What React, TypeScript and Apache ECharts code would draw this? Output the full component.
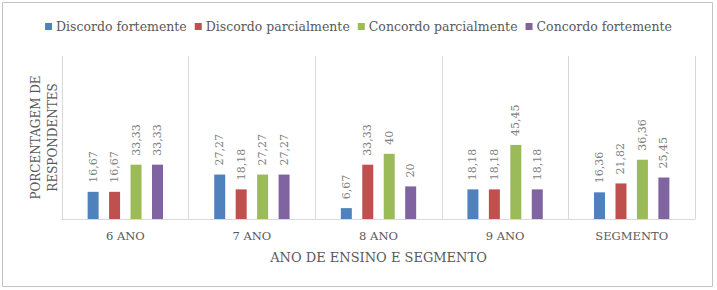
import React, { useEffect, useRef } from "react";
import * as echarts from "echarts";

const categories = ["6 ANO", "7 ANO", "8 ANO", "9 ANO", "SEGMENTO"];
const seriesNames = [
  "Discordo fortemente",
  "Discordo parcialmente",
  "Concordo parcialmente",
  "Concordo fortemente",
];
const discordoFortemente = [16.67, 27.27, 6.67, 18.18, 16.36];
const discordoParcialmente = [16.67, 18.18, 33.33, 18.18, 21.82];
const concordoParcialmente = [33.33, 27.27, 40, 45.45, 36.36];
const concordoFortemente = [33.33, 27.27, 20, 18.18, 25.45];
const colors = ["#4F81BD", "#C0504D", "#9BBB59", "#8064A2"];
const yAxisName = "PORCENTAGEM DE\nRESPONDENTES";
const xAxisName = "ANO DE ENSINO E SEGMENTO";

const FONT = "DejaVu Serif";

export default function App() {
  const ref = useRef<HTMLDivElement>(null);

  useEffect(() => {
    document.body.style.margin = "0";
    const chart = echarts.init(ref.current!, null, { renderer: "svg" });
    const allData = [
      discordoFortemente,
      discordoParcialmente,
      concordoParcialmente,
      concordoFortemente,
    ];
    chart.setOption({
      animation: false,
      backgroundColor: "#ffffff",
      color: colors,
      legend: {
        top: 15,
        left: "center",
        itemWidth: 7,
        itemHeight: 7,
        itemGap: 8,
        icon: "rect",
        textStyle: { fontFamily: FONT, fontSize: 12.5, color: "#595959", padding: [0, 0, 0, -1] },
        data: seriesNames,
      },
      graphic: [
        {
          type: "rect",
          shape: { x: 2.5, y: 2.5, width: 710, height: 284 },
          style: { fill: "none", stroke: "#c3c3c3", lineWidth: 1 },
          silent: true,
        },
      ],
      grid: { left: 62, right: 22, top: 56, bottom: 71 },
      xAxis: {
        type: "category",
        data: categories,
        name: xAxisName,
        nameLocation: "middle",
        nameGap: 32,
        nameTextStyle: { fontFamily: FONT, fontSize: 13, color: "#595959" },
        axisLine: { lineStyle: { color: "#d9d9d9" } },
        axisTick: { show: false },
        splitLine: { show: true, lineStyle: { color: "#d9d9d9" } },
        axisLabel: { fontFamily: FONT, fontSize: 11.5, color: "#595959", margin: 11 },
      },
      yAxis: {
        type: "value",
        min: 0,
        max: 100,
        name: yAxisName,
        nameLocation: "middle",
        nameGap: 1,
        nameTextStyle: { fontFamily: FONT, fontSize: 12, color: "#595959", lineHeight: 17 },
        axisLine: { show: false },
        axisTick: { show: false },
        axisLabel: { show: false },
        splitLine: { show: false },
      },
      series: seriesNames.map((name, i) => ({
        name,
        type: "bar",
        data: allData[i],
        barWidth: 11,
        barGap: "95%",
        label: {
          show: true,
          position: "top",
          rotate: 90,
          align: "left",
          verticalAlign: "middle",
          distance: 9,
          fontFamily: FONT,
          fontSize: 11,
          color: "#808080",
          formatter: (p: any) => String(p.value).replace(".", ","),
        },
      })),
    });
    return () => chart.dispose();
  }, []);

  return <div ref={ref} style={{ width: 717, height: 290 }} />;
}
